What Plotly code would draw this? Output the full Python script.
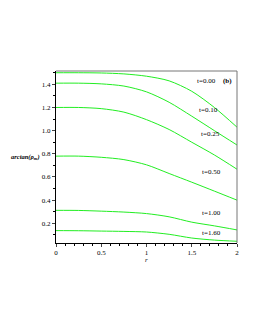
import plotly.graph_objects as go

r = [0, 0.25, 0.5, 0.75, 1.0, 1.25, 1.5, 1.75, 2.0]
series = {
    "t=0.00": [1.500, 1.500, 1.498, 1.490, 1.470, 1.430, 1.340, 1.200, 1.030],
    "t=0.10": [1.410, 1.410, 1.404, 1.385, 1.335, 1.245, 1.125, 1.000, 0.876],
    "t=0.25": [1.200, 1.200, 1.190, 1.160, 1.095, 1.010, 0.900, 0.790, 0.667],
    "t=0.50": [0.780, 0.780, 0.770, 0.750, 0.705, 0.630, 0.555, 0.478, 0.400],
    "t=1.00": [0.312, 0.311, 0.305, 0.297, 0.284, 0.256, 0.210, 0.178, 0.143],
    "t=1.60": [0.137, 0.136, 0.133, 0.130, 0.125, 0.105, 0.073, 0.055, 0.045],
}
label_pos = {
    "t=0.00": (1.54, 1.43),
    "t=0.10": (1.56, 1.18),
    "t=0.25": (1.58, 0.97),
    "t=0.50": (1.59, 0.64),
    "t=1.00": (1.59, 0.29),
    "t=1.60": (1.59, 0.12),
}
x_ticks = [0, 0.5, 1, 1.5, 2]
x_tick_text = ["0", "0.5", "1", "1.5", "2"]
y_ticks = [0.2, 0.4, 0.6, 0.8, 1.0, 1.2, 1.4]
y_tick_text = ["0.2", "0.4", "0.6", "0.8", "1.0", "1.2", "1.4"]

FONT = "Times New Roman, Liberation Serif, serif"
fig = go.Figure()
for name, vals in series.items():
    fig.add_trace(go.Scatter(x=r, y=vals, mode="lines",
                             line=dict(color="#22ee22", width=1, shape="spline", smoothing=0.8),
                             showlegend=False, hoverinfo="skip"))
for name, (lx, ly) in label_pos.items():
    fig.add_annotation(x=lx, y=ly, text=name, showarrow=False, xanchor="left", yanchor="middle",
                       font=dict(family=FONT, size=7, color="black"))
fig.add_annotation(x=1.90, y=1.43, text="<b>(b)</b>", showarrow=False, xanchor="center", yanchor="middle",
                   font=dict(family=FONT, size=7, color="black"))
fig.add_annotation(xref="paper", yref="y", x=-0.17, y=0.775, text="<b><i>arctan(ρ<sub>m</sub>)</i></b>",
                   showarrow=False, xanchor="center", yanchor="middle",
                   font=dict(family=FONT, size=6.5, color="black"))
fig.add_annotation(xref="x", yref="paper", x=1.0, y=-0.065, text="<i>r</i>", showarrow=False,
                   xanchor="center", yanchor="top", font=dict(family=FONT, size=7, color="black"))

fig.update_layout(
    width=247, height=322,
    margin=dict(l=48, r=18, t=63, b=87),
    paper_bgcolor="white", plot_bgcolor="white",
    font=dict(family=FONT, size=7, color="black"),
)
fig.update_xaxes(range=[0, 2.0], tickvals=x_ticks, ticktext=x_tick_text, ticks="outside", ticklen=3, tickwidth=1,
                 showgrid=False, zeroline=False, showline=True, linecolor="black", linewidth=1, mirror=False,
                 minor=dict(dtick=0.1, ticks="outside", ticklen=2, tickcolor="black", showgrid=False),
                 tickfont=dict(family=FONT, size=7))
fig.update_yaxes(range=[0.03, 1.515], tickvals=y_ticks, ticktext=y_tick_text, ticks="outside", ticklen=3, tickwidth=1,
                 showgrid=False, zeroline=False, showline=True, linecolor="black", linewidth=1, mirror=False,
                 minor=dict(dtick=0.1, ticks="outside", ticklen=2, tickcolor="black", showgrid=False),
                 tickfont=dict(family=FONT, size=7))
fig.add_shape(type="line", xref="paper", yref="paper", x0=0, x1=1, y0=1, y1=1, line=dict(color="#777777", width=1))
fig.add_shape(type="line", xref="paper", yref="paper", x0=1, x1=1, y0=0, y1=1, line=dict(color="#777777", width=1))
fig.write_html("out.html")
